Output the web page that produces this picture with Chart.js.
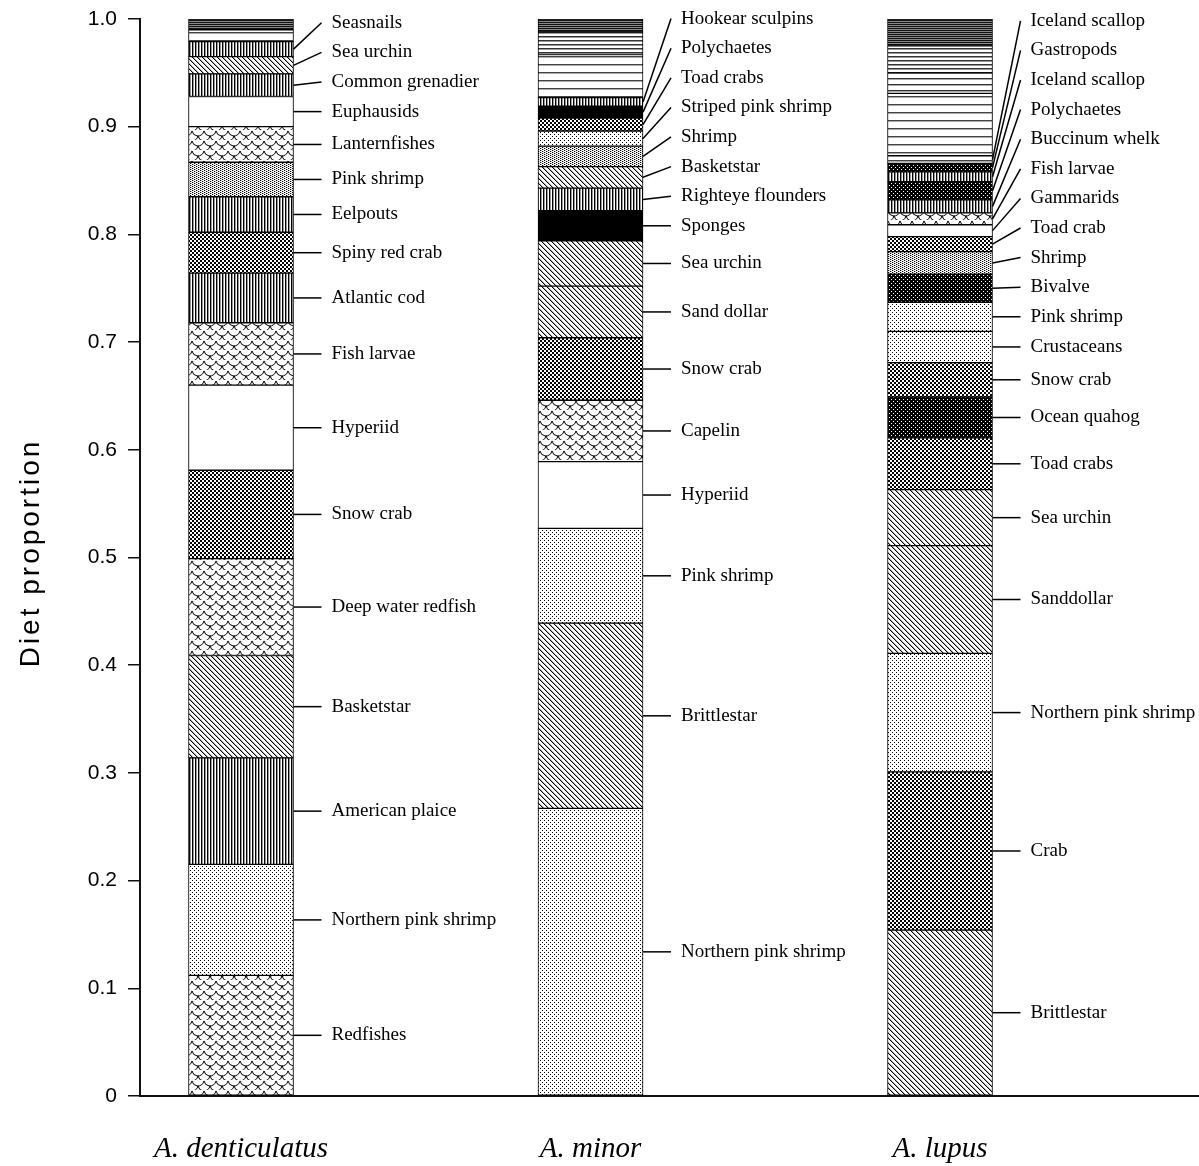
<!DOCTYPE html>
<html>
<head>
<meta charset="utf-8">
<script src="https://cdn.jsdelivr.net/npm/chart.js@4"></script>
<style>
  html, body { margin: 0; padding: 0; background: #fff; }
  #wrap { width: 1199px; height: 1166px; position: relative; }
</style>
</head>
<body>
<div id="wrap"><canvas id="chart"></canvas></div>
<script>
// ---- data ---------------------------------------------------------------
const species = ['A. denticulatus', 'A. minor', 'A. lupus'];
const yTickLabels = ['0', '0.1', '0.2', '0.3', '0.4', '0.5', '0.6', '0.7', '0.8', '0.9', '1.0'];

// prey items listed from the bottom of each bar upwards (null = minor items, unlabelled)
const denticulatusPrey = ['Redfishes', 'Northern pink shrimp', 'American plaice', 'Basketstar',
  'Deep water redfish', 'Snow crab', 'Hyperiid', 'Fish larvae', 'Atlantic cod', 'Spiny red crab',
  'Eelpouts', 'Pink shrimp', 'Lanternfishes', 'Euphausids', 'Common grenadier', 'Sea urchin',
  'Seasnails', null, null];
const denticulatusDiet = [0.112, 0.103, 0.099, 0.095, 0.090, 0.082, 0.079, 0.058, 0.046, 0.038,
  0.033, 0.032, 0.033, 0.028, 0.021, 0.016, 0.014, 0.011, 0.010];

const minorPrey = ['Northern pink shrimp', 'Brittlestar', 'Pink shrimp', 'Hyperiid', 'Capelin',
  'Snow crab', 'Sand dollar', 'Sea urchin', 'Sponges', 'Righteye flounders', 'Basketstar', 'Shrimp',
  'Striped pink shrimp', 'Toad crabs', 'Polychaetes', 'Hookear sculpins', null, null, null];
const minorDiet = [0.267, 0.172, 0.088, 0.062, 0.057, 0.058, 0.048, 0.042, 0.028, 0.021, 0.020,
  0.019, 0.014, 0.012, 0.011, 0.008, 0.040, 0.021, 0.012];

const lupusPrey = ['Brittlestar', 'Crab', 'Northern pink shrimp', 'Sanddollar', 'Sea urchin',
  'Toad crabs', 'Ocean quahog', 'Snow crab', 'Crustaceans', 'Pink shrimp', 'Bivalve', 'Shrimp',
  'Toad crab', 'Gammarids', 'Fish larvae', 'Buccinum whelk', 'Polychaetes', 'Iceland scallop',
  'Gastropods', 'Iceland scallop', null, null, null, null];
const lupusDiet = [0.154, 0.147, 0.110, 0.100, 0.052, 0.048, 0.038, 0.032, 0.029, 0.027, 0.026,
  0.021, 0.014, 0.011, 0.011, 0.012, 0.017, 0.009, 0.008, 0.007, 0.058, 0.019, 0.025, 0.025];

// ---- fill styles (hatching) per segment ----------------------------------
const denticulatusFills = ['scale', 'dotsSparse', 'vlines', 'diag', 'scale', 'dotsDense', 'white',
  'scale', 'vlines', 'dotsDense', 'vlines', 'dotsMid', 'scale', 'white', 'vlines', 'diag', 'vlines',
  'hSparse', 'hDense'];
const minorFills = ['dotsSparse', 'diag', 'dotsSparse', 'white', 'scale', 'dotsDense', 'diag', 'diag',
  'black', 'vlines', 'diag', 'dotsMid', 'dotsSparse', 'dotsDense', 'black', 'vlines',
  'hSparse', 'hMedium', 'hDense'];
const lupusFills = ['diag', 'dotsDense', 'dotsSparse', 'diag', 'diag', 'dotsDense', 'blackDots',
  'dotsDense', 'dotsSparse', 'dotsSparse', 'blackDots', 'dotsMid', 'dotsDense', 'white', 'scale',
  'vlines', 'blackDots', 'vlines', 'blackDots', 'hSparse', 'hSparse', 'hLight', 'hMedium', 'hDense'];

// ---- pattern tiles -------------------------------------------------------
function tile(w, h, paint) {
  const c = document.createElement('canvas');
  c.width = w; c.height = h;
  const g = c.getContext('2d');
  g.fillStyle = '#fff';
  g.fillRect(0, 0, w, h);
  paint(g);
  return g.createPattern(c, 'repeat');
}
function px(g, color, pts) {
  g.fillStyle = color;
  pts.forEach(([x, y, w = 1, h = 1]) => g.fillRect(x, y, w, h));
}
const patterns = {
  white: '#ffffff',
  black: '#000000',
  vlines: tile(3, 1, g => { px(g, '#000', [[0, 0]]); px(g, '#999', [[1, 0]]); }),
  diag: tile(5, 5, g => {
    for (let i = 0; i < 5; i++) { px(g, '#000', [[i, i]]); px(g, '#aaa', [[(i + 1) % 5, i]]); }
  }),
  dotsSparse: tile(4, 4, g => px(g, '#000', [[0, 0], [2, 2]])),
  dotsMid: tile(4, 2, g => { px(g, '#000', [[0, 0], [2, 1]]); px(g, '#bbb', [[1, 0], [3, 1]]); }),
  dotsDense: tile(4, 4, g => px(g, '#000', [[0, 0, 2, 2], [2, 2, 2, 2]])),
  blackDots: tile(4, 4, g => { px(g, '#000', [[0, 0, 4, 4]]); px(g, '#fff', [[1, 1], [3, 3]]); }),
  hDense: tile(1, 2, g => { px(g, '#111', [[0, 0]]); px(g, '#888', [[0, 1]]); }),
  hMedium: tile(1, 4, g => { px(g, '#333', [[0, 0]]); px(g, '#999', [[0, 1]]); }),
  hLight: tile(1, 6, g => { px(g, '#333', [[0, 0]]); px(g, '#aaa', [[0, 1]]); }),
  hSparse: tile(1, 8, g => { px(g, '#444', [[0, 0]]); px(g, '#aaa', [[0, 1]]); }),
  scale: tile(12, 10, g => {
    g.strokeStyle = '#000';
    g.lineWidth = 1;
    [[6, 0], [0, 5], [12, 5], [6, 10]].forEach(([cx, cy]) => {
      g.beginPath(); g.arc(cx, cy, 6, 0.15, Math.PI - 0.15); g.stroke();
    });
  })
};

// ---- datasets: one stacked segment per prey item -------------------------
const datasets = [];
function addSpecies(idx, prey, diet, fills) {
  prey.forEach((name, k) => {
    datasets.push({
      label: name || '',
      preyName: name,
      species: idx,
      data: [{ x: idx, y: diet[k] }],
      backgroundColor: patterns[fills[k]],
      borderColor: '#000',
      borderWidth: 1,
      borderSkipped: false,
      barThickness: 105
    });
  });
}
addSpecies(0, denticulatusPrey, denticulatusDiet, denticulatusFills);
addSpecies(1, minorPrey, minorDiet, minorFills);
addSpecies(2, lupusPrey, lupusDiet, lupusFills);

// ---- prey names with leader lines to the right of each bar ---------------
const LABEL_GAP = 29.6;
const preyLabels = {
  id: 'preyLabels',
  afterDatasetsDraw(chart) {
    const ctx = chart.ctx;
    const groups = species.map(() => []);
    chart.data.datasets.forEach((ds, i) => {
      const el = chart.getDatasetMeta(i).data[0];
      if (!el || !ds.preyName) return;
      const p = el.getProps(['x', 'y', 'base', 'width'], true);
      groups[ds.species].push({ name: ds.preyName, mid: (p.y + p.base) / 2, right: p.x + p.width / 2 });
    });
    ctx.save();
    ctx.font = '19px "Liberation Serif", "Times New Roman", serif';
    ctx.fillStyle = '#000';
    ctx.strokeStyle = '#000';
    ctx.lineWidth = 1.5;
    ctx.textBaseline = 'middle';
    ctx.textAlign = 'left';
    groups.forEach(items => {
      items.sort((a, b) => b.mid - a.mid);
      let prev = Infinity;
      items.forEach(it => {
        const ly = Math.min(it.mid, prev - LABEL_GAP);
        prev = ly;
        ctx.beginPath();
        ctx.moveTo(it.right, it.mid);
        ctx.lineTo(it.right + 28, ly);
        ctx.stroke();
        ctx.fillText(it.name, it.right + 38, ly);
      });
    });
    ctx.restore();
  }
};

// ---- rotated y-axis title ------------------------------------------------
const yTitle = {
  id: 'yTitle',
  afterDraw(chart) {
    const ctx = chart.ctx;
    ctx.save();
    ctx.translate(31, 553);
    ctx.rotate(-Math.PI / 2);
    ctx.font = '28px "Liberation Sans", Arial, sans-serif';
    if ('letterSpacing' in ctx) ctx.letterSpacing = '3px';
    ctx.fillStyle = '#000';
    ctx.textAlign = 'center';
    ctx.textBaseline = 'middle';
    ctx.fillText('Diet proportion', 0, 0);
    ctx.restore();
  }
};

new Chart(document.getElementById('chart'), {
  type: 'bar',
  data: { datasets },
  plugins: [preyLabels, yTitle],
  options: {
    responsive: true,
    maintainAspectRatio: false,
    devicePixelRatio: 1,
    animation: false,
    layout: { padding: { top: 19, right: 0, bottom: 0, left: 0 } },
    plugins: { legend: { display: false }, tooltip: { enabled: false } },
    scales: {
      x: {
        type: 'linear',
        offset: false,
        stacked: true,
        min: -0.289,
        max: 2.741,
        afterBuildTicks: scale => { scale.ticks = species.map((_, i) => ({ value: i })); },
        afterFit: scale => { scale.height = 70; },
        grid: { display: false, drawTicks: false, offset: false },
        border: { display: true, color: '#111', width: 2 },
        ticks: {
          autoSkip: false,
          maxRotation: 0,
          padding: 36,
          color: '#000',
          font: { family: '"Liberation Serif", "Times New Roman", serif', style: 'italic', size: 29 },
          callback: (v, i) => species[i]
        }
      },
      y: {
        stacked: true,
        min: 0,
        max: 1,
        afterFit: scale => { scale.width = 140; scale.paddingTop = 0; scale.paddingBottom = 0; },
        grid: { display: true, drawOnChartArea: false, drawTicks: true, tickLength: 12, color: '#111', lineWidth: 1.5 },
        border: { display: true, color: '#111', width: 2 },
        ticks: {
          stepSize: 0.1,
          padding: 11,
          color: '#000',
          font: { family: '"Liberation Sans", Arial, sans-serif', size: 21 },
          callback: (v, i) => yTickLabels[i]
        }
      }
    }
  }
});
</script>
</body>
</html>
